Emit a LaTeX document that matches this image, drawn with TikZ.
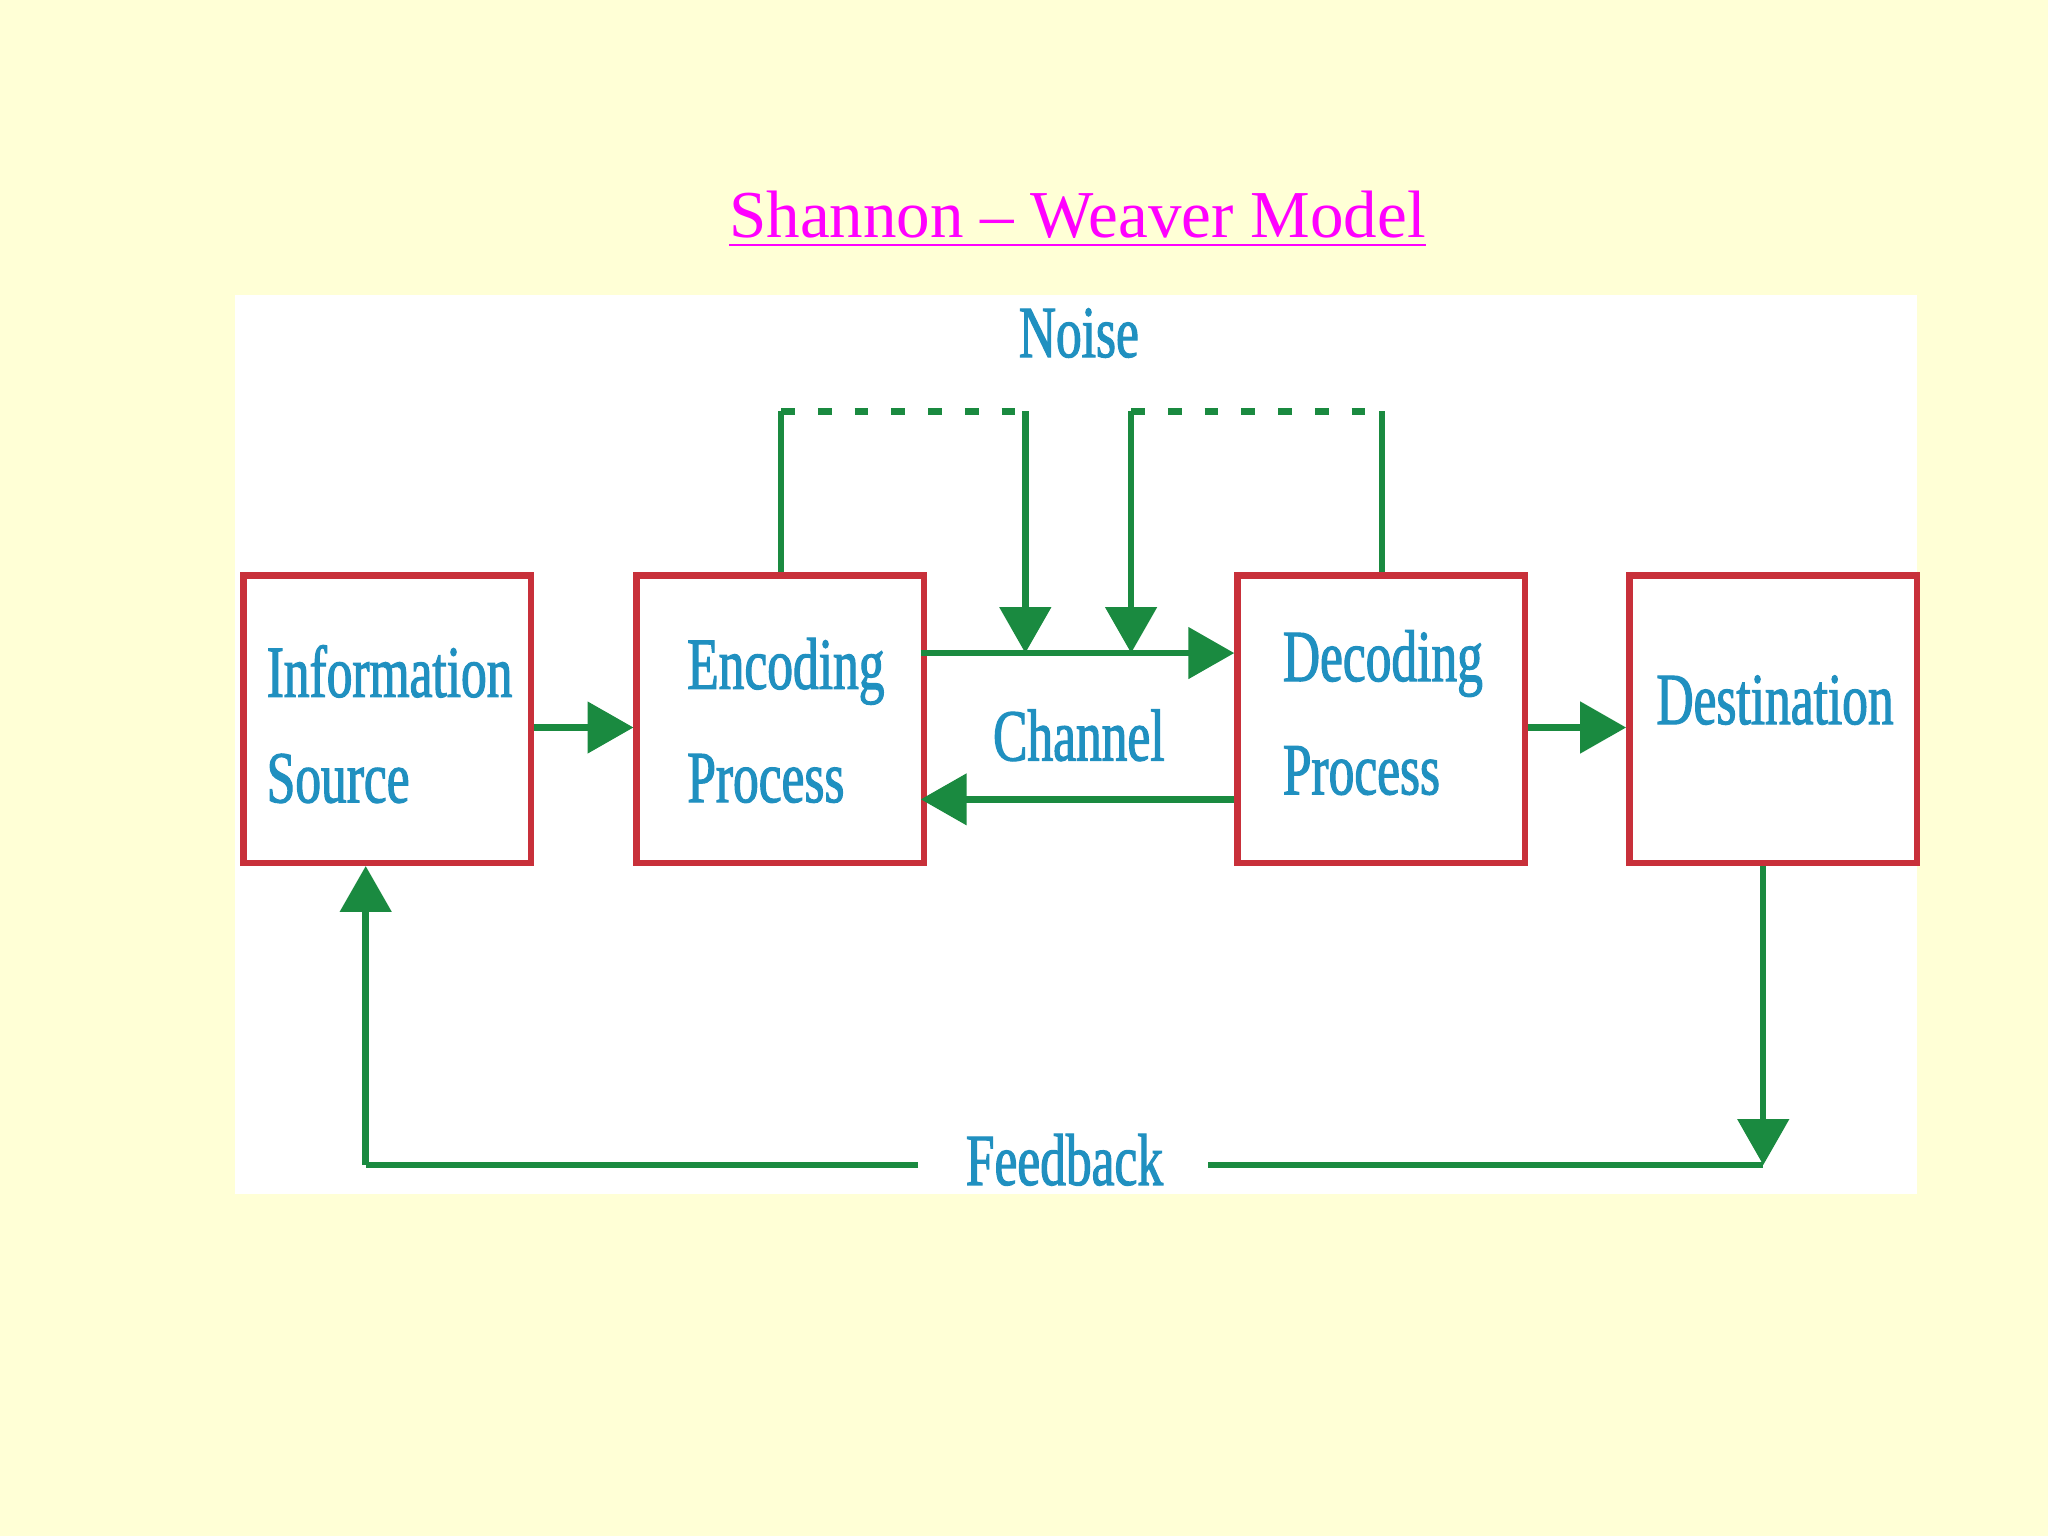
\documentclass[tikz,border=0pt]{standalone}
\usepackage{fontspec}
\setmainfont{Liberation Serif}
\newfontfamily\cond{Liberation Serif}[FakeStretch=0.7,FakeBold=1.5]
\usetikzlibrary{arrows.meta}
\definecolor{bgy}{HTML}{FFFFD6}
\definecolor{boxred}{HTML}{C8303A}
\definecolor{grn}{HTML}{1A8A40}
\definecolor{txtb}{HTML}{2090C0}
\begin{document}
\begin{tikzpicture}[x=0.01cm,y=-0.01cm,
  box/.style={draw=boxred,line width=1.4pt,minimum width=2.2cm,minimum height=2.2cm,inner sep=0pt,anchor=north west},
  lbl/.style={text=txtb,font=\cond\fontsize{16}{22}\selectfont,inner sep=1pt},
  tx/.style={lbl,anchor=west},
  ln/.style={grn,line width=1.4pt},
  arr/.style={ln,-{Triangle[length=10pt,width=11pt]}},
  dot/.style={grn,line width=1.4pt,dash pattern=on 3pt off 5pt}]
\fill[bgy] (0,0) rectangle (1568,1176);
\useasboundingbox (0,0) rectangle (1568,1176);
\fill[white] (180,226) rectangle (1468,914);
\node[text={rgb,255:red,255;green,0;blue,255},font=\fontsize{14.6}{16}\selectfont,inner sep=0pt] (title) at (825,168) {\underline{Shannon – Weaver Model}};
\node[box] (src) at (184,438) {};
\node[box] (enc) at (485,438) {};
\node[box] (dec) at (945,438) {};
\node[box] (dst) at (1245,438) {};
\node[tx] (t1) at (200,514) {Information};
\node[tx] (t2) at (200,596) {Source};
\node[tx] (t3) at (522,514) {Encoding};
\node[tx] (t4) at (522,596) {Process};
\node[tx] (t5) at (978,508) {Decoding};
\node[tx] (t6) at (978,590) {Process};
\node[tx] (t7) at (1264,536) {Destination};
\node[lbl] (noise) at (826,255) {Noise};
\node[lbl] (chan) at (826,563) {Channel};
\node[lbl] (fb) at (815,888) {Feedback};
\coordinate (n1) at (598,315); \coordinate (n2) at (785,315);
\coordinate (n3) at (866,315); \coordinate (n4) at (1058,315);
\coordinate (c1) at (705,500); \coordinate (c2) at (945,500);
\coordinate (c3) at (945,612); \coordinate (c4) at (705,612);
\coordinate (f1) at (1350,892); \coordinate (f2) at (280,892);
\coordinate (f3) at (925,892); \coordinate (f4) at (703,892);
\draw[arr] (src.east |- 0,557) -- (enc.west |- 0,557);
\draw[arr] (dec.east |- 0,557) -- (dst.west |- 0,557);
\draw[arr] (c1) -- (c2);
\draw[arr] (c3) -- (c4);
\draw[ln] (enc.north -| n1) -- (n1);
\draw[dot] (n1) -- (n2);
\draw[arr] (n2) -- (785,500);
\draw[arr] (n3) -- (866,500);
\draw[dot] (n3) -- (n4);
\draw[ln] (n4) -- (dec.north -| n4);
\draw[arr] (dst.south -| f1) -- (f1);
\draw[ln] (f3) -- (f1);
\draw[ln] (f4) -- (f2);
\draw[arr] (f2) -- (src.south -| f2);
\end{tikzpicture}
\end{document}
